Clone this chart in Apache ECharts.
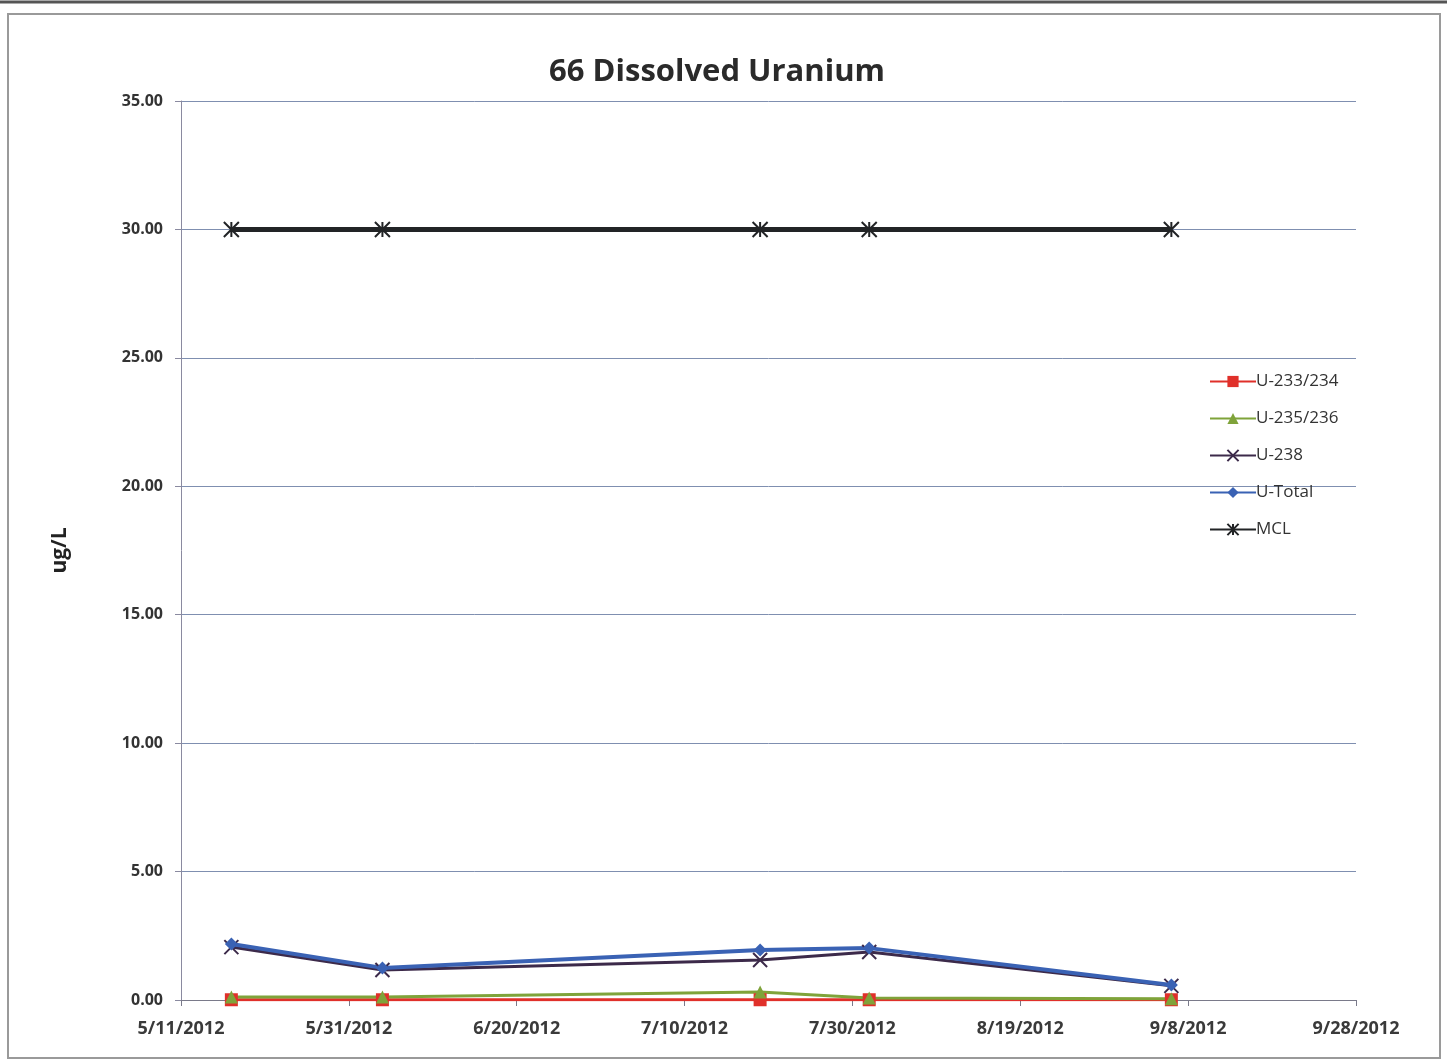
<!DOCTYPE html>
<html>
<head>
<meta charset="utf-8">
<script src="https://cdn.jsdelivr.net/npm/echarts@6/dist/echarts.min.js"></script>
<style>
  html, body { margin: 0; padding: 0; background: #fff; }
  #chart { width: 1447px; height: 1063px; }
</style>
</head>
<body>
<div id="chart"></div>
<script>
// sample dates and results (ug/L)
const sampleDates = ['2012-05-17', '2012-06-04', '2012-07-19', '2012-08-01', '2012-09-06']
const u233 = [0.01, 0.01, 0.01, 0.01, 0.01]
const u235 = [0.12, 0.12, 0.31, 0.08, 0.05]
const u238 = [2.06, 1.17, 1.56, 1.87, 0.55]
const uTotal = [2.18, 1.25, 1.95, 2.02, 0.58]
const mcl = [30, 30, 30, 30, 30]

// axis range
const axisStart = '2012-05-11'
const axisEnd = '2012-09-28'
const dayStep = 20
const yTicks = [0, 5, 10, 15, 20, 25, 30, 35]

const DAY = 86400000
const toMs = s => {
  const p = s.split('-').map(Number)
  return Date.UTC(p[0], p[1] - 1, p[2])
}
const startMs = toMs(axisStart)
const dayOf = s => (toMs(s) - startMs) / DAY
const fmtDay = d => {
  const dt = new Date(startMs + d * DAY)
  return (dt.getUTCMonth() + 1) + '/' + dt.getUTCDate() + '/' + dt.getUTCFullYear()
}
const pts = vals => sampleDates.map((s, i) => [dayOf(s), vals[i]])

const chart = echarts.init(document.getElementById('chart'))

const labelFont = '"Open Sans", sans-serif'

const seriesDefs = [
  { name: 'U-233/234', data: u233, color: '#e0302a', symbol: 'rect', size: 13, width: 3 },
  { name: 'U-235/236', data: u235, color: '#7fa33a', symbol: 'triangle', size: 13, width: 3 },
  { name: 'U-238', data: u238, color: '#3c2a4a', symbol: 'path://M0,0L10,10M10,0L0,10', size: 14, width: 3 },
  { name: 'U-Total', data: uTotal, color: '#3a62b4', symbol: 'diamond', size: 13, width: 4 },
  { name: 'MCL', data: mcl, color: '#222426', symbol: 'path://M0,0L10,10M10,0L0,10M5,0L5,10', size: 15, width: 5 }
]

const option = {
  backgroundColor: '#fff',
  animation: false,
  title: {
    text: '66 Dissolved Uranium',
    left: 712,
    top: 52,
    textAlign: 'center',
    textStyle: { fontFamily: labelFont, fontWeight: 'bold', fontSize: 31, color: '#2a2a2a' }
  },
  legend: {
    orient: 'vertical',
    left: 1204,
    top: 368,
    itemGap: 20,
    itemWidth: 46,
    itemHeight: 14,
    textStyle: { fontFamily: labelFont, fontSize: 17, color: '#333', padding: [0, 0, 0, -5] },
    data: seriesDefs.map(s => s.name)
  },
  grid: { left: 181, right: 91, top: 101, bottom: 63 },
  xAxis: {
    type: 'value',
    min: 0,
    max: dayOf(axisEnd),
    interval: dayStep,
    axisLine: { lineStyle: { color: '#7a7a8a', width: 1 } },
    axisTick: { show: true, length: 6, lineStyle: { color: '#7a7a8a' } },
    splitLine: { show: false },
    axisLabel: {
      formatter: v => fmtDay(v),
      fontFamily: labelFont,
      fontSize: 18,
      fontWeight: 'bold',
      color: '#3a3a3a',
      margin: 20
    }
  },
  yAxis: {
    type: 'value',
    min: yTicks[0],
    max: yTicks[yTicks.length - 1],
    interval: 5,
    name: 'ug/L',
    nameLocation: 'middle',
    nameRotate: 90,
    nameGap: 110,
    nameTextStyle: { fontFamily: labelFont, fontSize: 21, fontWeight: 'bold', color: '#222' },
    axisLine: { show: true, lineStyle: { color: '#8a8aa0', width: 1 } },
    axisTick: { show: true, length: 6, inside: false, lineStyle: { color: '#8a8aa0' } },
    splitLine: { show: true, lineStyle: { color: '#7f8fb0', width: 1 } },
    axisLabel: {
      formatter: v => v.toFixed(2),
      fontFamily: labelFont,
      fontSize: 16,
      fontWeight: 'bold',
      color: '#333',
      margin: 18
    }
  },
  graphic: [
    { type: 'rect', shape: { x: 8, y: 14, width: 1432, height: 1044 }, style: { fill: 'none', stroke: '#9a9a9a', lineWidth: 2 }, silent: true },
    { type: 'line', shape: { x1: 0, y1: 2, x2: 1447, y2: 2 }, style: { stroke: '#555', lineWidth: 3 }, silent: true }
  ],
  series: seriesDefs.map(s => ({
    name: s.name,
    type: 'line',
    data: pts(s.data),
    symbol: s.symbol,
    symbolSize: s.size,
    showAllSymbol: true,
    lineStyle: { color: s.color, width: s.width },
    itemStyle: { color: s.color, borderColor: s.color, borderWidth: s.symbol.startsWith('path') ? 2 : 0 }
  }))
}

chart.setOption(option)
</script>
</body>
</html>
